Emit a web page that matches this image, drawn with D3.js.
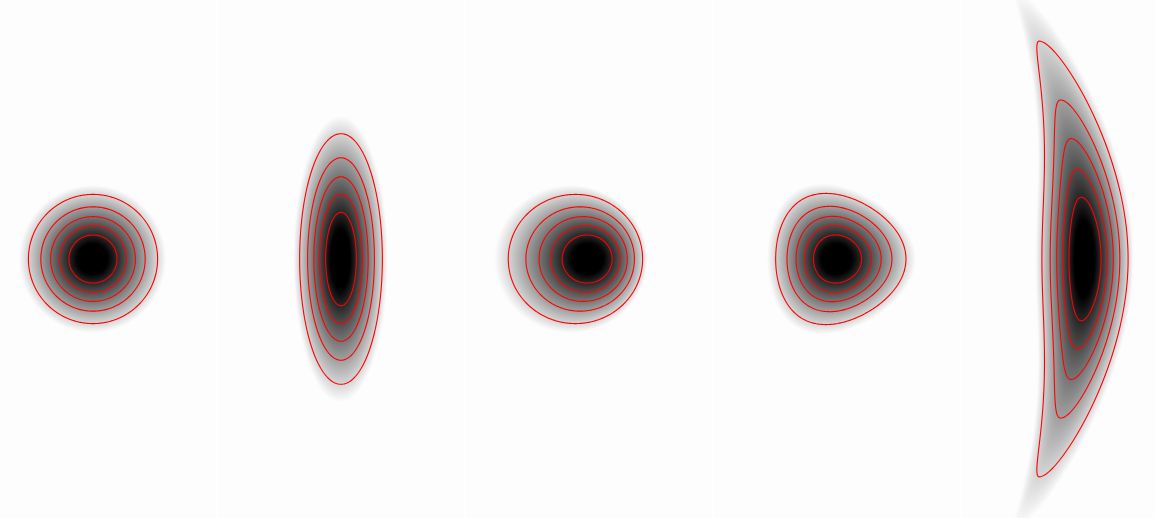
<!DOCTYPE html>
<html>
<head>
<meta charset="utf-8">
<script src="https://cdn.jsdelivr.net/npm/d3@7"></script>
<style>
  html, body { margin: 0; padding: 0; background: #ffffff; }
  svg { display: block; }
</style>
</head>
<body>
<svg id="chart" width="1155" height="518"></svg>
<script>
// Five densities, each a warped standard normal (zx, zy) in its own panel.
const panelNames = ["Gaussian", "Stretched", "Skewed", "Triangular", "Banana"];
// x = scaleX*zx*(1 - leftPinch*zy^2 when zx<0) + shiftX*(zx^2 + zy^2) - bend*y^2
const scaleX    = [1, 0.64, 1.04, 1, 0.667];
const shiftX    = [0, 0, -0.117, 0, 0];
const leftPinch = [0, 0, 0, 0, 0.128];
const bend      = [0, 0, 0, 0, 0.0347];
// y = scaleY*zy + cubicY*zy^3
const scaleY = [1, 1.94, 1, 1, 2.44];
const cubicY = [0, 0, 0, 0, 0.29];
// three-fold (triangular) term added to the log density
const triangle = [0, 0, 0, 0.032, 0];
// contour levels, relative to the peak density
const levels = [0.2, 0.35, 0.5, 0.65, 0.8];
// normal-score distance range shaded from black to white
const shadeRange = [0.42, 2.05];
// data extent of each panel
const xDomain = [-3.444, 3.444];
const yDomain = [-7.194, 7.194];

const W = 1155, H = 518;
const svg = d3.select("#chart");

const xBand = d3.scaleBand().domain(panelNames).range([-31, 1209]);
const bw = xBand.bandwidth();
const ys = d3.scaleLinear().domain(yDomain).range([H, 0]);
const shade = d3.scaleLinear().domain(shadeRange).range([0, 253]).clamp(true);

// solve a*z + c*z^3 = t (monotone)
function invCubic(t, a, c) {
  let z = t / a;
  for (let k = 0; k < 40; k++) {
    const f = a * z + c * z * z * z - t;
    const d = a + 3 * c * z * z;
    const dz = f / d;
    z -= dz;
    if (Math.abs(dz) < 1e-10) break;
  }
  return z;
}
// solve a*z + b*z^2 = t, branch through the origin
function invQuad(t, a, b) {
  if (b === 0) return t / a;
  const disc = a * a + 4 * b * t;
  if (disc < 0) return NaN;
  return (-a + Math.sqrt(disc)) / (2 * b);
}

function logDensity(p, x, y) {
  const zy = invCubic(y, scaleY[p], cubicY[p]);
  const t = x + bend[p] * y * y - shiftX[p] * zy * zy;
  let a = scaleX[p];
  if (t < 0) a *= Math.max(0.05, 1 - leftPinch[p] * zy * zy);
  const zx = invQuad(t, a, shiftX[p]);
  if (!isFinite(zx)) return -Infinity;
  return -(zx * zx + zy * zy) / 2 + triangle[p] * (zx * zx * zx - 3 * zx * zy * zy);
}

panelNames.forEach((name, p) => {
  const x0 = xBand(name);
  const xs = d3.scaleLinear().domain(xDomain).range([x0, x0 + bw]);
  const nx = Math.round(bw), ny = H;

  const values = new Float64Array(nx * ny);
  const canvas = document.createElement("canvas");
  canvas.width = nx; canvas.height = ny;
  const ctx = canvas.getContext("2d");
  const img = ctx.createImageData(nx, ny);

  for (let j = 0; j < ny; j++) {
    const y = ys.invert(j + 0.5);
    for (let i = 0; i < nx; i++) {
      const x = xs.invert(x0 + i + 0.5);
      const lp = logDensity(p, x, y);
      const k = j * nx + i;
      values[k] = Math.exp(lp);
      const dist = Math.sqrt(Math.max(0, -2 * lp));
      const g = Math.round(shade(dist));
      img.data[4 * k] = g;
      img.data[4 * k + 1] = g;
      img.data[4 * k + 2] = g;
      img.data[4 * k + 3] = 255;
    }
  }
  ctx.putImageData(img, 0, 0);

  const g = svg.append("g").attr("class", "panel");
  g.append("image")
    .attr("x", x0).attr("y", 0)
    .attr("width", nx - 1).attr("height", ny)
    .attr("preserveAspectRatio", "none")
    .attr("href", canvas.toDataURL());

  // red contour lines
  const gridX = d3.scaleLinear().domain([0, nx]).range([xs.invert(x0), xs.invert(x0 + nx)]);
  const gridY = d3.scaleLinear().domain([0, ny]).range([ys.invert(0), ys.invert(ny)]);
  const path = d3.geoPath(d3.geoTransform({
    point(gx, gy) { this.stream.point(xs(gridX(gx)), ys(gridY(gy))); }
  }));
  const contours = d3.contours().size([nx, ny]).thresholds(levels)(values);
  g.selectAll("path.contour")
    .data(contours)
    .join("path")
    .attr("class", "contour")
    .attr("d", path)
    .attr("fill", "none")
    .attr("stroke", "#ff0000")
    .attr("stroke-width", 1.1);
});
</script>
</body>
</html>
